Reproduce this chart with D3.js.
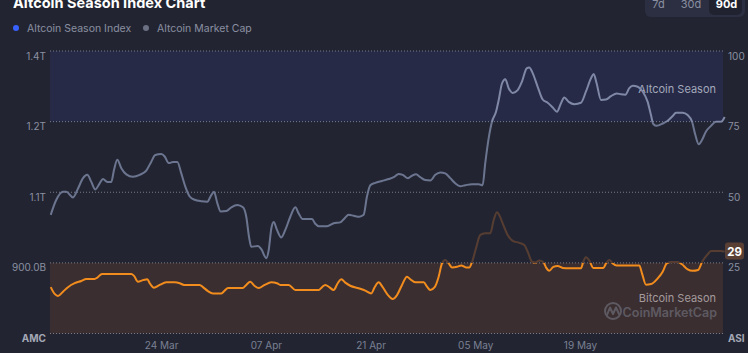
<!DOCTYPE html>
<html>
<head>
<meta charset="utf-8">
<script src="https://cdn.jsdelivr.net/npm/d3@7"></script>
<style>
  body { margin: 0; background: #222531; overflow: hidden; }
  svg { display: block; font-family: Inter, "Noto Sans", sans-serif; }
</style>
</head>
<body>
<svg id="chart" width="748" height="353"></svg>
<script>
const startDate = Date.UTC(2024, 2, 9);
const tickDates = ['2024-03-24', '2024-04-07', '2024-04-21', '2024-05-05', '2024-05-19'];
const capTicks = [800, 950, 1100, 1250, 1400];
const capTickLabels = ['AMC', '900.0B', '1.1T', '1.2T', '1.4T'];
const asiTicks = [0, 25, 50, 75, 100];
const asiTickLabels = ['ASI', '25', '50', '75', '100'];
const legendNames = ['Altcoin Season Index', 'Altcoin Market Cap'];
const ranges = ['7d', '30d', '90d'];

// altcoin market cap, billions
const capDays = [
  0.23, 0.98, 1.87, 2.31, 3.21, 3.88, 4.55, 5.12, 5.66, 6.19,
  6.78, 7.22, 7.80, 8.33, 8.69, 9.13, 9.67, 10.34, 11.23, 12.13,
  13.01, 13.68, 14.21, 15.02, 15.47, 16.01, 16.58, 17.16, 17.69, 18.23,
  18.82, 19.48, 20.37, 21.17, 21.70, 22.06, 22.51, 22.96, 23.71, 24.38,
  25.18, 25.94, 26.38, 26.74, 27.05, 27.95, 28.39, 29.06, 29.38, 29.73,
  30.05, 30.49, 31.06, 31.60, 32.27, 32.94, 33.39, 33.93, 34.64, 35.17,
  35.61, 36.07, 37.18, 38.07, 38.95, 39.54, 40.08, 40.75, 41.50, 42.08,
  42.52, 42.97, 43.63, 44.53, 45.43, 46.10, 46.76, 47.30, 48.01, 48.54,
  49.08, 49.65, 50.32, 50.99, 51.66, 52.33, 52.99, 53.66, 54.33, 55.00,
  55.67, 56.57, 57.46, 57.99, 58.34, 58.80, 59.24, 59.78, 60.14, 60.58,
  61.02, 61.47, 62.01, 62.68, 63.25, 63.88, 64.23, 64.68, 65.35, 66.02,
  66.69, 67.36, 67.93, 68.47, 68.91, 69.50, 70.25, 71.14, 71.81, 72.48,
  72.84, 73.24, 73.82, 74.48, 75.15, 75.92, 76.49, 77.07, 77.60, 78.06,
  78.73, 79.39, 80.06, 80.50, 80.81, 81.27, 82.07, 82.74, 83.41, 83.85,
  84.74, 85.41, 85.99, 86.43, 86.88, 87.32, 87.86, 88.53, 89.20, 89.87,
  90.36
];
const capValues = [
  1052, 1084, 1101, 1101, 1089, 1108, 1130, 1137, 1122, 1106,
  1119, 1128, 1122, 1122, 1147, 1169, 1151, 1138, 1133, 1137,
  1146, 1165, 1179, 1181, 1176, 1162, 1164, 1164, 1140, 1112,
  1091, 1084, 1081, 1080, 1094, 1101, 1077, 1059, 1060, 1068,
  1073, 1068, 1048, 1006, 984, 986, 979, 960, 977, 1023,
  1037, 1020, 1004, 1020, 1048, 1068, 1055, 1043, 1043, 1043,
  1033, 1028, 1028, 1034, 1036, 1045, 1052, 1050, 1048, 1052,
  1091, 1115, 1120, 1124, 1128, 1132, 1139, 1137, 1130, 1135,
  1138, 1132, 1126, 1125, 1137, 1142, 1140, 1130, 1119, 1113,
  1115, 1117, 1117, 1115, 1162, 1215, 1250, 1271, 1296, 1331,
  1340, 1321, 1311, 1317, 1335, 1363, 1365, 1353, 1324, 1297,
  1290, 1280, 1271, 1289, 1301, 1292, 1287, 1290, 1314, 1342,
  1351, 1331, 1296, 1297, 1304, 1310, 1308, 1307, 1321, 1326,
  1324, 1314, 1292, 1264, 1245, 1241, 1246, 1252, 1262, 1269,
  1269, 1264, 1250, 1222, 1202, 1211, 1229, 1241, 1250, 1250,
  1260
];

// altcoin season index
const asiDays = [
  0.23, 0.76, 1.20, 1.87, 2.54, 3.44, 4.32, 4.99, 6.11, 6.46,
  7.09, 8.12, 11.01, 11.37, 11.90, 12.57, 13.15, 13.47, 14.04, 14.80,
  15.69, 16.81, 17.48, 18.05, 20.15, 20.59, 21.26, 21.93, 23.04, 23.50,
  23.94, 25.94, 26.38, 26.92, 27.51, 28.04, 28.84, 29.73, 30.49, 30.93,
  32.05, 32.94, 36.07, 36.51, 36.95, 37.48, 38.07, 38.61, 39.09, 39.62,
  40.29, 41.41, 42.30, 43.10, 43.55, 44.09, 44.62, 45.33, 45.96, 46.54,
  47.21, 47.87, 48.31, 48.98, 50.11, 50.55, 50.99, 51.58, 52.11, 52.55,
  53.00, 53.45, 53.89, 54.56, 55.14, 55.76, 56.21, 56.57, 57.10, 57.68,
  58.34, 59.01, 59.47, 59.91, 60.22, 60.67, 61.34, 62.01, 62.89, 63.56,
  64.01, 64.59, 65.03, 65.57, 66.10, 66.46, 66.91, 67.44, 68.03, 68.70,
  69.58, 71.14, 71.45, 71.81, 72.25, 72.79, 74.12, 74.49, 74.93, 75.38,
  75.92, 78.94, 79.30, 79.83, 80.50, 81.40, 82.07, 82.61, 83.17, 84.07,
  84.64, 85.41, 86.05, 86.80, 87.35, 88.02, 88.55, 89.81, 90.36
];
const asiValues = [
  16.4, 14.0, 13.3, 14.8, 16.4, 17.8, 18.6, 19.3, 19.3, 19.8,
  21.1, 21.1, 21.1, 20.4, 18.3, 18.9, 19.2, 17.8, 16.2, 17.2,
  18.1, 18.1, 17.8, 17.2, 17.2, 16.4, 15.0, 14.2, 14.2, 15.2,
  16.1, 16.1, 17.2, 18.3, 16.8, 16.1, 17.2, 18.1, 17.8, 17.2,
  17.2, 15.4, 15.4, 16.4, 17.2, 16.4, 15.4, 17.8, 19.2, 18.0,
  16.9, 16.0, 15.2, 14.2, 16.4, 18.1, 16.4, 13.6, 12.2, 13.6,
  17.2, 20.1, 19.2, 18.1, 18.1, 16.6, 15.4, 16.4, 20.1, 24.8,
  26.0, 24.8, 23.4, 23.6, 24.1, 23.4, 23.4, 25.3, 30.2, 34.9,
  35.5, 35.5, 40.2, 42.9, 41.9, 39.0, 34.9, 32.8, 32.1, 31.3,
  29.0, 25.4, 25.1, 25.8, 25.3, 23.4, 22.2, 23.6, 23.9, 23.2,
  23.1, 23.1, 25.4, 27.0, 25.8, 23.2, 23.2, 24.8, 26.0, 24.8,
  24.1, 24.1, 21.3, 17.3, 17.5, 19.5, 21.9, 24.8, 25.3, 25.3,
  24.5, 22.7, 22.2, 22.5, 25.4, 27.8, 29.2, 29.2, 29.0
];

const svg = d3.select('#chart');
const plotLeft = 50, plotRight = 723, plotTop = 51, plotBottom = 333.5;
const toDate = (d) => new Date(startDate + d * 864e5);

const x = d3.scaleUtc()
    .domain([toDate(0), toDate(90)])
    .range([49, 722]);
const yAsi = d3.scaleLinear().domain([0, 100]).range([plotBottom, plotTop]);
const yCap = d3.scaleLinear().domain([800, 1400]).range([plotBottom, plotTop]);

// season bands
svg.append('rect')
    .attr('x', plotLeft).attr('width', plotRight - plotLeft)
    .attr('y', yAsi(100)).attr('height', yAsi(75) - yAsi(100))
    .attr('fill', '#262a47');
svg.append('rect')
    .attr('x', plotLeft).attr('width', plotRight - plotLeft)
    .attr('y', yAsi(25)).attr('height', yAsi(0) - yAsi(25))
    .attr('fill', '#3a2e31');

// dotted grid
svg.append('g')
    .selectAll('line')
    .data(asiTicks)
    .enter()
        .append('line')
        .attr('x1', plotLeft).attr('x2', plotRight)
        .attr('y1', (d) => yAsi(d)).attr('y2', (d) => yAsi(d))
        .attr('stroke', '#9298a8')
        .attr('stroke-opacity', 0.75)
        .attr('stroke-dasharray', '1,2');

// band captions + watermark
svg.append('text')
    .attr('x', 716).attr('y', 93)
    .attr('text-anchor', 'end')
    .attr('font-size', 11)
    .attr('fill', '#a3a8ba')
    .text('Altcoin Season');
svg.append('text')
    .attr('x', 716).attr('y', 302)
    .attr('text-anchor', 'end')
    .attr('font-size', 11)
    .attr('fill', '#a59a9c')
    .text('Bitcoin Season');

const mark = svg.append('g').attr('opacity', 0.45);
mark.append('circle')
    .attr('cx', 613).attr('cy', 311).attr('r', 8)
    .attr('fill', 'none').attr('stroke', '#8a8f9c').attr('stroke-width', 2);
mark.append('path')
    .attr('d', 'M607,315 L610,307.5 L613,314 L616,307.5 L619,314')
    .attr('fill', 'none').attr('stroke', '#8a8f9c').attr('stroke-width', 2)
    .attr('stroke-linejoin', 'round').attr('stroke-linecap', 'round');
mark.append('text')
    .attr('x', 717).attr('y', 317)
    .attr('text-anchor', 'end')
    .attr('font-size', 12.5)
    .attr('font-weight', 600)
    .attr('fill', '#8a8f9c')
    .text('CoinMarketCap');

// line colour gradients
const defs = svg.append('defs');
const asiGrad = defs.append('linearGradient')
    .attr('id', 'asiGrad')
    .attr('gradientUnits', 'userSpaceOnUse')
    .attr('x1', 0).attr('x2', 0)
    .attr('y1', yAsi(0)).attr('y2', yAsi(100));
asiGrad.append('stop').attr('offset', 0).attr('stop-color', '#f28c1c');
asiGrad.append('stop').attr('offset', 0.25).attr('stop-color', '#f28c1c');
asiGrad.append('stop').attr('offset', 0.25).attr('stop-color', '#573d31');
asiGrad.append('stop').attr('offset', 1).attr('stop-color', '#573d31');

const capGrad = defs.append('linearGradient')
    .attr('id', 'capGrad')
    .attr('gradientUnits', 'userSpaceOnUse')
    .attr('x1', 0).attr('x2', 0)
    .attr('y1', yAsi(0)).attr('y2', yAsi(100));
capGrad.append('stop').attr('offset', 0).attr('stop-color', '#6c7590');
capGrad.append('stop').attr('offset', 0.75).attr('stop-color', '#6c7590');
capGrad.append('stop').attr('offset', 0.75).attr('stop-color', '#7f88a7');
capGrad.append('stop').attr('offset', 1).attr('stop-color', '#7f88a7');

const capData = d3.zip(capDays, capValues);
const asiData = d3.zip(asiDays, asiValues);

const capLine = d3.line()
    .x((d) => x(toDate(d[0])))
    .y((d) => yCap(d[1]))
    .curve(d3.curveMonotoneX);
const asiLine = d3.line()
    .x((d) => x(toDate(d[0])))
    .y((d) => yAsi(d[1]))
    .curve(d3.curveMonotoneX);

svg.append('path')
    .datum(asiData)
    .attr('d', asiLine)
    .attr('fill', 'none')
    .attr('stroke', 'url(#asiGrad)')
    .attr('stroke-width', 2);
svg.append('path')
    .datum(capData)
    .attr('d', capLine)
    .attr('fill', 'none')
    .attr('stroke', 'url(#capGrad)')
    .attr('stroke-width', 2);

// left axis (market cap)
svg.append('g')
    .selectAll('text')
    .data(capTicks)
    .enter()
        .append('text')
        .attr('x', 46)
        .attr('y', (d) => yCap(d) + 5)
        .attr('dy', '0.35em')
        .attr('text-anchor', 'end')
        .attr('font-size', 10)
        .attr('font-weight', (d, i) => (i === 0 ? 700 : 400))
        .attr('fill', (d, i) => (i === 0 ? '#a4a8b6' : '#8b90a2'))
        .text((d, i) => capTickLabels[i]);

// right axis (index)
svg.append('g')
    .selectAll('text')
    .data(asiTicks)
    .enter()
        .append('text')
        .attr('x', 728)
        .attr('y', (d) => yAsi(d) + 5)
        .attr('dy', '0.35em')
        .attr('font-size', 10)
        .attr('font-weight', (d, i) => (i === 0 ? 700 : 400))
        .attr('fill', (d, i) => (i === 0 ? '#a4a8b6' : '#8b90a2'))
        .text((d, i) => asiTickLabels[i]);

// bottom axis
const xAxis = d3.axisBottom(x)
    .tickValues(tickDates.map((s) => new Date(s)))
    .tickFormat(d3.utcFormat('%d %b'))
    .tickSize(0)
    .tickPadding(0);
const xg = svg.append('g')
    .attr('transform', 'translate(0, 342)')
    .call(xAxis);
xg.select('.domain').remove();
xg.selectAll('text')
    .attr('font-family', 'Inter, "Noto Sans", sans-serif')
    .attr('font-size', 10)
    .attr('fill', '#7b8094');

// last value tag
const lastVal = asiValues[asiValues.length - 1];
const tagY = yAsi(lastVal);
svg.append('rect')
    .attr('x', 725).attr('y', tagY - 9)
    .attr('width', 19).attr('height', 17)
    .attr('rx', 3)
    .attr('fill', '#5a4034');
svg.append('text')
    .attr('x', 734.5).attr('y', tagY)
    .attr('dy', '0.35em')
    .attr('text-anchor', 'middle')
    .attr('font-size', 11.5)
    .attr('font-weight', 700)
    .attr('fill', '#ffffff')
    .text(Math.round(lastVal));

// title
svg.append('text')
    .attr('x', 13).attr('y', 8)
    .attr('font-size', 14.5)
    .attr('font-weight', 700)
    .attr('fill', '#ffffff')
    .text('Altcoin Season Index Chart');

// legend
const legendColors = ['#3861fb', '#6b7082'];
const legendX = [16, 146];
const legend = svg.append('g')
    .selectAll('g')
    .data(legendNames)
    .enter()
        .append('g')
        .attr('transform', (d, i) => `translate(${legendX[i]}, 28)`);
legend.append('circle')
    .attr('r', 3)
    .attr('fill', (d, i) => legendColors[i]);
legend.append('text')
    .attr('x', 11)
    .attr('dy', '0.35em')
    .attr('font-size', 10.5)
    .attr('fill', '#8a8fa1')
    .text((d) => d);

// range buttons
svg.append('rect')
    .attr('x', 645).attr('y', -10)
    .attr('width', 100).attr('height', 27)
    .attr('rx', 6)
    .attr('fill', '#2c2f41');
svg.append('rect')
    .attr('x', 709).attr('y', -10)
    .attr('width', 33).attr('height', 25)
    .attr('rx', 5)
    .attr('fill', '#20232f');
const btnX = [658.5, 691, 726.5];
svg.append('g')
    .selectAll('text')
    .data(ranges)
    .enter()
        .append('text')
        .attr('x', (d, i) => btnX[i])
        .attr('y', 8)
        .attr('text-anchor', 'middle')
        .attr('font-size', 11)
        .attr('font-weight', (d, i) => (i === 2 ? 700 : 400))
        .attr('fill', (d, i) => (i === 2 ? '#ffffff' : '#8a8fa1'))
        .text((d) => d);
</script>
</body>
</html>
